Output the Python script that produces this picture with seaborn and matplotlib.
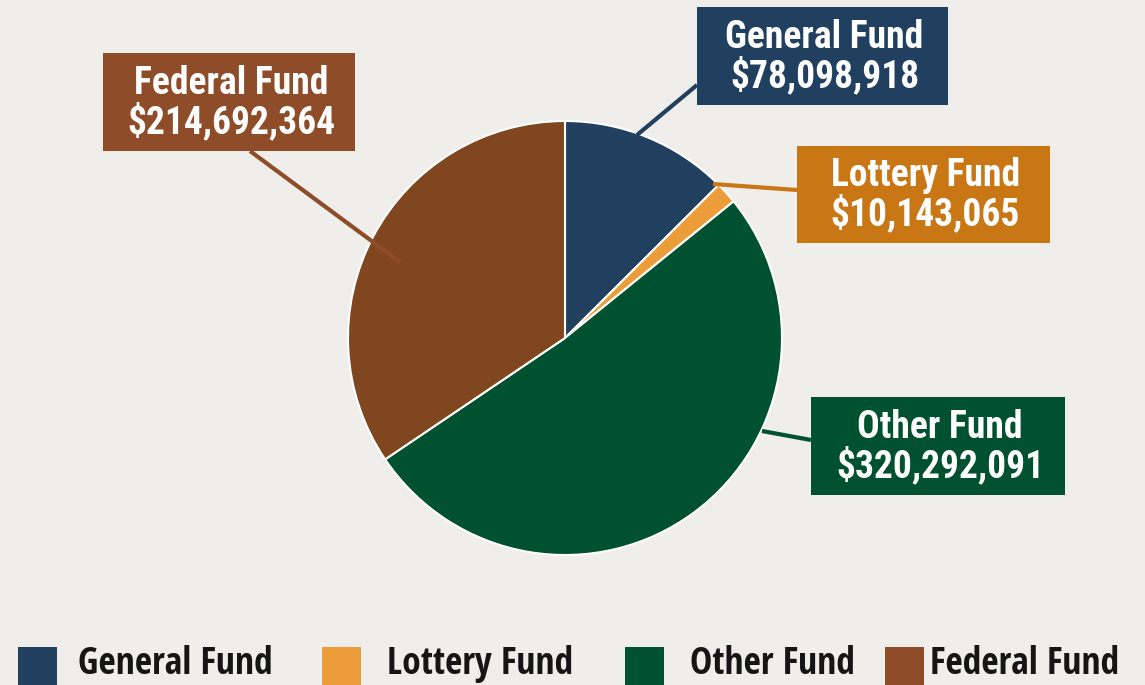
import matplotlib
matplotlib.use("Agg")
import matplotlib.pyplot as plt
from matplotlib.patches import Rectangle
import seaborn as sns

# data
funds = ["General Fund", "Lottery Fund", "Other Fund", "Federal Fund"]
amounts = [78098918, 10143065, 320292091, 214692364]
slice_colors = ["#21405f", "#ec9d3a", "#00512f", "#80461f"]
box_colors = ["#21405f", "#c97715", "#00512f", "#8e4c28"]
legend_colors = ["#21405f", "#ec9d3a", "#00512f", "#8e4c28"]

sns.set_theme(style="white")
box_font = ["Roboto Condensed", "Liberation Sans Narrow", "DejaVu Sans"]
legend_font = ["Open Sans Condensed", "Roboto Condensed", "DejaVu Sans"]
plt.rcParams["font.family"] = box_font

W, H = 1145, 685
bg = "#efeeeb"
fig = plt.figure(figsize=(W / 100, H / 100), dpi=100, facecolor=bg)
ax = fig.add_axes([0, 0, 1, 1])
ax.set_facecolor(bg)

# pie (pixel coords, y up)
cx, cy, r = 565, H - 338, 217
wedges, _ = ax.pie(amounts, colors=slice_colors, startangle=90, counterclock=False,
                   center=(cx, cy), radius=r, frame=True,
                   wedgeprops=dict(edgecolor="white", linewidth=1.5))
ax.set_xlim(0, W)
ax.set_ylim(0, H)
ax.set_aspect("equal")
ax.axis("off")

# label boxes: (left, top, right, bottom) in pixels, leader start on box, leader end on pie
boxes = [(697, 7, 948, 105), (797, 146, 1050, 243), (811, 397, 1065, 495), (103, 53, 355, 151)]
leader_from = [(697, 85), (797, 190), (811, 440), (250, 151)]
leader_to = [(637, 135), (713, 184), (762, 431), (400, 262)]

for name, amt, col, (x0, y0, x1, y1), p0, p1 in zip(funds, amounts, box_colors, boxes,
                                                     leader_from, leader_to):
    ax.plot([p0[0], p1[0]], [H - p0[1], H - p1[1]], color=col, lw=3, solid_capstyle="butt", zorder=3)
    ax.add_patch(Rectangle((x0, H - y1), x1 - x0, y1 - y0, facecolor=col, edgecolor="none", zorder=4))
    ax.text((x0 + x1) / 2 + 2, H - (y0 + y1) / 2 - 1, f"{name}\n${amt:,}", color="white",
            fontsize=27, fontweight="bold", ha="center", va="center", linespacing=1.02,
            family=box_font, zorder=5)

# legend along the bottom
sq_x = [18, 322, 625, 885]
txt_x = [78, 387, 690, 930]
for name, col, sx, tx in zip(funds, legend_colors, sq_x, txt_x):
    ax.add_patch(Rectangle((sx, H - 687), 39, 40, facecolor=col, edgecolor="none", zorder=4))
    ax.text(tx, H - 664, name, color="#151515", fontsize=27, fontweight="bold",
            ha="left", va="center", family=legend_font, zorder=5)

fig.savefig("out.png", dpi=100, facecolor=bg)
